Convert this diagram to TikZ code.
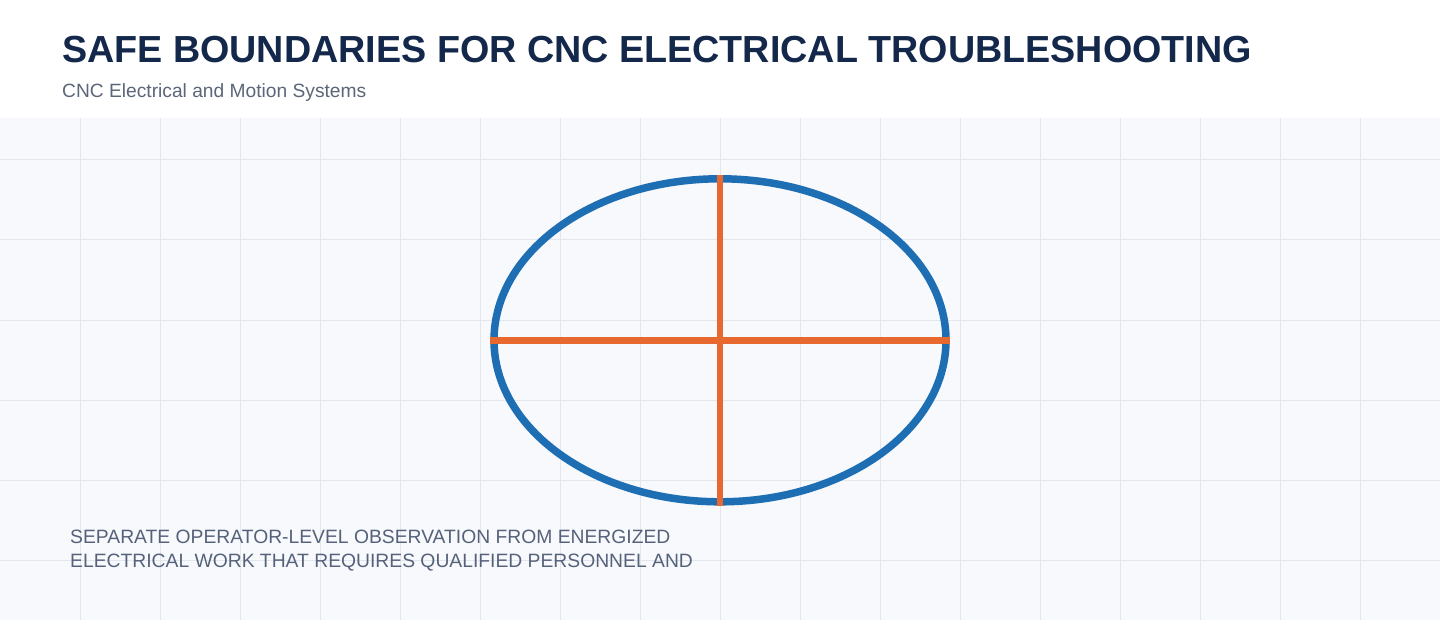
\documentclass[tikz,border=0pt]{standalone}
\usepackage{fontspec}
\setmainfont{Liberation Sans}
\usetikzlibrary{shapes.geometric}
\definecolor{navy}{HTML}{13284A}
\definecolor{subgrey}{HTML}{5B6679}
\definecolor{bodygrey}{HTML}{56627A}
\definecolor{panelbg}{HTML}{F7F9FC}
\definecolor{gridc}{HTML}{E2E7EE}
\definecolor{ringblue}{HTML}{1E6EB4}
\definecolor{crossorange}{HTML}{E8692F}
\tikzset{
  title/.style={anchor=base west, inner sep=0, text=navy, font=\fontsize{37.7}{44}\selectfont\bfseries},
  subtitle/.style={anchor=base west, inner sep=0, text=subgrey, font=\fontsize{19.2}{22}\selectfont},
  bodytext/.style={anchor=base west, inner sep=0, text=bodygrey, align=left, font=\fontsize{19.3}{24}\selectfont},
  ring/.style={ellipse, draw=ringblue, line width=7.5pt, minimum width=452pt, minimum height=323pt, inner sep=0},
  cross/.style={draw=crossorange, line width=6.5pt},
}
\begin{document}
\begin{tikzpicture}[x=1pt,y=-1pt]
\useasboundingbox (0,0) rectangle (1440,620);
\fill[white] (0,0) rectangle (1440,118);
\fill[panelbg] (0,118) rectangle (1440,620);
\foreach \gx in {80,160,...,1360} \draw[gridc, line width=1pt] (\gx,118) -- (\gx,620);
\foreach \gy in {160,240,...,560} \draw[gridc, line width=1pt] (0,\gy) -- (1440,\gy);
\node[title] (t) at (62,63) {SAFE BOUNDARIES FOR CNC ELECTRICAL TROUBLESHOOTING};
\node[subtitle] (s) at (62,98) {CNC Electrical and Motion Systems};
\node[ring] (e) at (720,340.3) {};
\draw[cross] (e.west) -- (e.east);
\draw[cross] (e.north) -- (e.south);
\node[bodytext] (b) at (70,567) {SEPARATE OPERATOR-LEVEL OBSERVATION FROM ENERGIZED\\ELECTRICAL WORK THAT REQUIRES QUALIFIED PERSONNEL AND};
\end{tikzpicture}
\end{document}
